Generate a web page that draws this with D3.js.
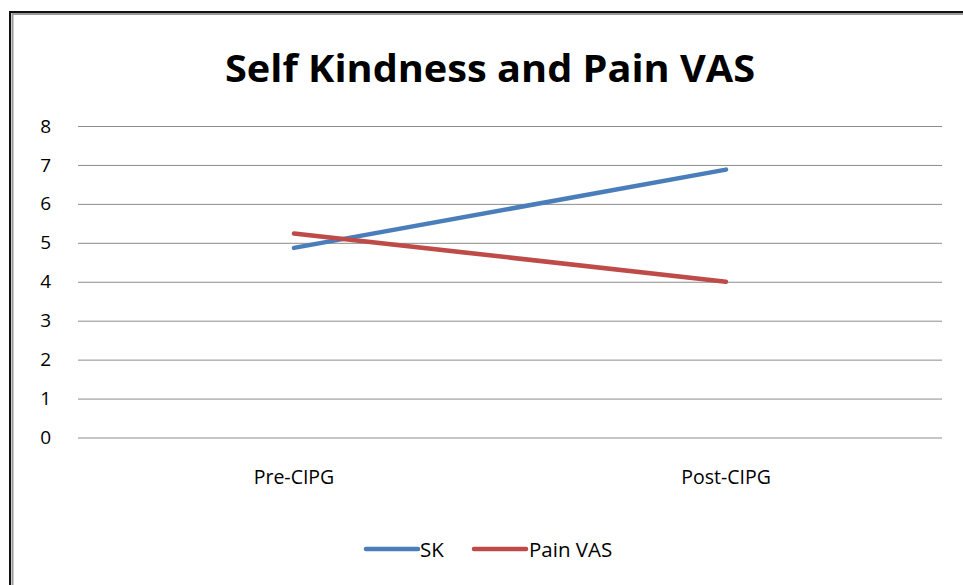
<!DOCTYPE html>
<html>
<head>
<meta charset="utf-8">
<script src="https://cdn.jsdelivr.net/npm/d3@7"></script>
<style>
  body { margin: 0; background: #fff; }
  text { font-family: "Open Sans", "Liberation Sans", sans-serif; fill: #000; }
</style>
</head>
<body>
<div id="chart"></div>
<script>
// data
var categories = ["Pre-CIPG", "Post-CIPG"];
var skValues = [4.87, 6.88];
var painValues = [5.24, 4.0];
var seriesNames = ["SK", "Pain VAS"];
var seriesColors = ["#4a7ebb", "#be4b48"];
var yTicks = [0, 1, 2, 3, 4, 5, 6, 7, 8];

var width = 963, height = 585;
var plot = { left: 78, right: 942, top: 126, bottom: 437.5 };

var svg = d3.select("#chart").append("svg")
    .attr("width", width)
    .attr("height", height);

// outer frame (dark edge plus soft grey inner edge)
svg.append("path")
    .attr("d", "M10,585 V12 H963")
    .attr("fill", "none")
    .attr("stroke", "#111")
    .attr("stroke-width", 2);
svg.append("path")
    .attr("d", "M12.5,585 V14 H963")
    .attr("fill", "none")
    .attr("stroke", "#9a9a9a")
    .attr("stroke-width", 2);

// title
svg.append("text")
    .attr("x", 490)
    .attr("y", 82)
    .attr("text-anchor", "middle")
    .attr("font-size", 38)
    .attr("font-weight", "bold")
    .attr("textLength", 530)
    .attr("lengthAdjust", "spacingAndGlyphs")
    .text("Self Kindness and Pain VAS");

var x = d3.scaleBand()
    .domain(categories)
    .range([plot.left, plot.right]);

var y = d3.scaleLinear()
    .domain([0, 8])
    .range([plot.bottom, plot.top]);

// gridlines + y labels
var yAxis = d3.axisLeft(y)
    .tickValues(yTicks)
    .tickSize(-(plot.right - plot.left))
    .tickPadding(27)
    .tickFormat(d3.format("d"));

var gy = svg.append("g")
    .attr("transform", "translate(" + plot.left + ",0)")
    .call(yAxis);
gy.select(".domain").remove();
gy.selectAll(".tick line")
    .attr("stroke", "#8c8c8c")
    .attr("stroke-width", 1);
gy.selectAll(".tick text")
    .attr("font-size", 19)
    .attr("font-family", "\"Open Sans\", sans-serif")
    .attr("fill", "#222");

// x labels
var xAxis = d3.axisBottom(x).tickSize(0).tickPadding(33);
var gx = svg.append("g")
    .attr("transform", "translate(0," + plot.bottom + ")")
    .call(xAxis);
gx.select(".domain").remove();
gx.selectAll(".tick text")
    .attr("font-size", 19.5)
    .attr("font-family", "\"Open Sans\", sans-serif")
    .attr("fill", "#222");

// lines
var line = d3.line()
    .x(function(d, i) { return x(categories[i]) + x.bandwidth() / 2; })
    .y(function(d) { return y(d); });

[skValues, painValues].forEach(function(vals, i) {
    svg.append("path")
        .datum(vals)
        .attr("d", line)
        .attr("fill", "none")
        .attr("stroke", seriesColors[i])
        .attr("stroke-width", 4.5)
        .attr("stroke-linecap", "round");
});

// legend
var legendItems = [
    { x: 366, textX: 420 },
    { x: 474, textX: 529 }
];
legendItems.forEach(function(item, i) {
    svg.append("line")
        .attr("x1", item.x).attr("x2", item.x + 52)
        .attr("y1", 549).attr("y2", 549)
        .attr("stroke", seriesColors[i])
        .attr("stroke-width", 4.5)
        .attr("stroke-linecap", "round");
    svg.append("text")
        .attr("x", item.textX)
        .attr("y", 557)
        .attr("font-size", 20.5)
        .attr("fill", "#222")
        .text(seriesNames[i]);
});
</script>
</body>
</html>
